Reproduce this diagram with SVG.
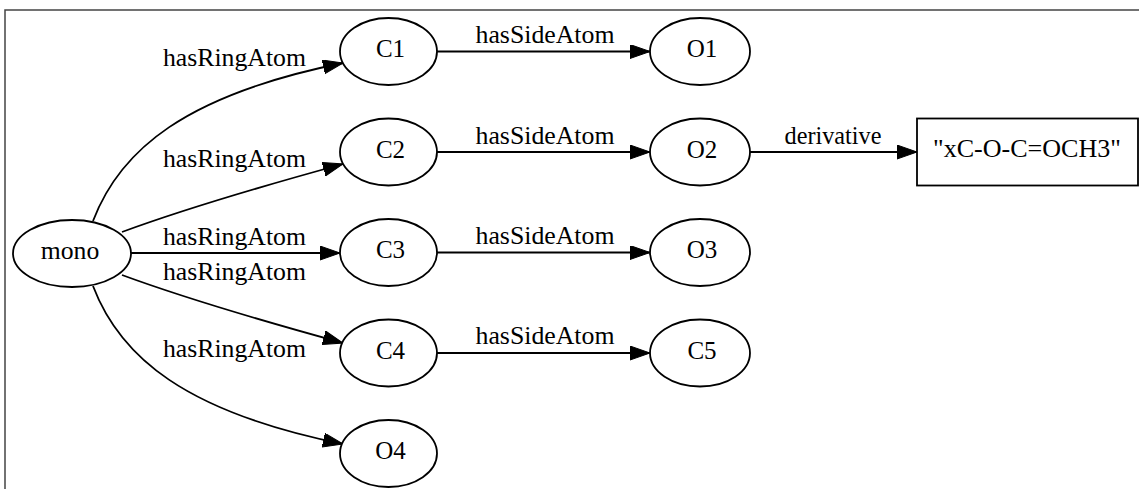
<svg xmlns="http://www.w3.org/2000/svg" width="1139" height="489" viewBox="0 0 1139 489">
  <style>
    .node ellipse, .node rect { fill: #ffffff; stroke: #000000; stroke-width: 1.8; }
    .edge { fill: none; stroke: #000000; stroke-width: 1.8; marker-end: url(#arrow); }
    text { font-family: "Liberation Serif", "Times New Roman", serif; font-size: 25px; fill: #000000; }
    .nl { text-anchor: middle; }
    .el { text-anchor: middle; }
  </style>
  <defs>
    <marker id="arrow" markerUnits="userSpaceOnUse" markerWidth="21" markerHeight="15" refX="20" refY="7" orient="auto" viewBox="0 0 21 15">
      <path d="M0,0 L20,7 L0,14 Z" fill="#000000" stroke="#000000" stroke-width="1"/>
    </marker>
  </defs>
  <rect width="1139" height="489" fill="#ffffff"/>
  <!-- frame -->
  <path d="M5,489 V10 H1139" fill="none" stroke="#444444" stroke-width="1.5"/>

  <g id="edges">
    <path class="edge" d="M93,221 C120,150 185,95 343,63"/>
    <path class="edge" d="M122,232 C190,207 270,184 343,164"/>
    <path class="edge" d="M131,253 H340"/>
    <path class="edge" d="M122,275 C190,300 270,323 343,343"/>
    <path class="edge" d="M93,286 C120,357 185,412 343,444"/>
    <path class="edge" d="M437,51.5 H650"/>
    <path class="edge" d="M437,152 H650"/>
    <path class="edge" d="M437,252.5 H650"/>
    <path class="edge" d="M437,353 H650"/>
    <path class="edge" d="M750,152 H917"/>
    <text class="el" x="234.5" y="66" textLength="143" lengthAdjust="spacingAndGlyphs">hasRingAtom</text>
    <text class="el" x="234.5" y="166.5" textLength="143" lengthAdjust="spacingAndGlyphs">hasRingAtom</text>
    <text class="el" x="234.5" y="245" textLength="143" lengthAdjust="spacingAndGlyphs">hasRingAtom</text>
    <text class="el" x="234.5" y="280" textLength="143" lengthAdjust="spacingAndGlyphs">hasRingAtom</text>
    <text class="el" x="234.5" y="357" textLength="143" lengthAdjust="spacingAndGlyphs">hasRingAtom</text>
    <text class="el" x="545" y="43" textLength="139" lengthAdjust="spacingAndGlyphs">hasSideAtom</text>
    <text class="el" x="545" y="143.5" textLength="139" lengthAdjust="spacingAndGlyphs">hasSideAtom</text>
    <text class="el" x="545" y="244" textLength="139" lengthAdjust="spacingAndGlyphs">hasSideAtom</text>
    <text class="el" x="545" y="344" textLength="139" lengthAdjust="spacingAndGlyphs">hasSideAtom</text>
    <text class="el" x="833" y="143.5" textLength="97" lengthAdjust="spacingAndGlyphs">derivative</text>
  </g>

  <g id="mono" class="node">
    <ellipse cx="72" cy="253.5" rx="59" ry="33.5"/>
    <text class="nl" x="70" y="258.5" textLength="58.5" lengthAdjust="spacingAndGlyphs">mono</text>
  </g>
  <g id="C1" class="node">
    <ellipse cx="388.5" cy="51.5" rx="48.5" ry="33.5"/>
    <text class="nl" x="390.5" y="57">C1</text>
  </g>
  <g id="C2" class="node">
    <ellipse cx="388.5" cy="152" rx="48.5" ry="33.5"/>
    <text class="nl" x="390.5" y="157.5">C2</text>
  </g>
  <g id="C3" class="node">
    <ellipse cx="388.5" cy="252.5" rx="48.5" ry="33.5"/>
    <text class="nl" x="390.5" y="258">C3</text>
  </g>
  <g id="C4" class="node">
    <ellipse cx="388.5" cy="353" rx="48.5" ry="33.5"/>
    <text class="nl" x="390.5" y="358.5">C4</text>
  </g>
  <g id="O4" class="node">
    <ellipse cx="388.5" cy="453.5" rx="48.5" ry="33.5"/>
    <text class="nl" x="390.5" y="459">O4</text>
  </g>
  <g id="O1" class="node">
    <ellipse cx="700" cy="51.5" rx="50" ry="33.5"/>
    <text class="nl" x="702" y="57">O1</text>
  </g>
  <g id="O2" class="node">
    <ellipse cx="700" cy="152" rx="50" ry="33.5"/>
    <text class="nl" x="702" y="157.5">O2</text>
  </g>
  <g id="O3" class="node">
    <ellipse cx="700" cy="252.5" rx="50" ry="33.5"/>
    <text class="nl" x="702" y="258">O3</text>
  </g>
  <g id="C5" class="node">
    <ellipse cx="700" cy="353" rx="50" ry="33.5"/>
    <text class="nl" x="702" y="358.5">C5</text>
  </g>
  <g id="literal" class="node">
    <rect x="917" y="118.5" width="221" height="67"/>
    <text class="nl" x="1027" y="157" textLength="188" lengthAdjust="spacingAndGlyphs">"xC-O-C=OCH3"</text>
  </g>
</svg>
